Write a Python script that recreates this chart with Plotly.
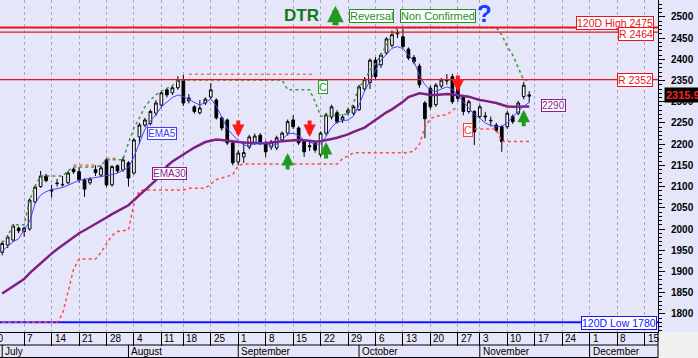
import plotly.graph_objects as go
import pandas as pd

# ---------------- calendar (trading days) ----------------
holidays = ["2014-08-15", "2014-10-31"]
calendar = [d.strftime("%Y-%m-%d") for d in pd.bdate_range("2014-06-30", "2014-12-19")
            if d.strftime("%Y-%m-%d") not in holidays]
pos = {d: i for i, d in enumerate(calendar)}
dates = [d for d in calendar if "2014-07-01" <= d <= "2014-11-14"]

# ---------------- data ----------------
opens = [1945,1962,1974,2002,1994,2000,2064,2100,2125,2092,
         2107,2104,2109,2141,2135,2116,2109,2140,2127,2163,
         2104,2149,2139,2156,2132,2217,2245,2249,2273,2292,
         2328,2321,2333,2351,2302,2288,2274,2297,2311,2304,
         2262,2257,2203,2158,2170,2193,2203,2221,2203,2193,
         2191,2210,2226,2257,2238,2206,2194,2203,2175,2226,
         2264,2274,2257,2274,2273,2281,2330,2345,2398,2387,
         2415,2433,2460,2453,2424,2404,2384,2297,2332,2293,
         2337,2349,2359,2335,2312,2277,2277,2265,2264,2255,
         2245,2241,2241,2265,2273,2312,2313]
closes = [1966,1981,2007,1996,2002,2068,2099,2125,2114,2090,
          2108,2105,2132,2135,2116,2094,2118,2133,2144,2104,
          2147,2137,2163,2120,2210,2245,2257,2277,2297,2321,
          2316,2333,2351,2297,2309,2277,2285,2306,2328,2262,
          2238,2203,2156,2179,2180,2217,2219,2203,2182,2205,
          2215,2226,2253,2241,2203,2182,2196,2186,2226,2269,
          2288,2252,2264,2280,2288,2335,2352,2398,2359,2410,
          2448,2458,2463,2430,2403,2394,2340,2260,2288,2339,
          2351,2351,2300,2308,2277,2300,2229,2288,2266,2256,
          2233,2206,2273,2253,2297,2339,2315.99]
highs = [1972,1986,2012,2006,2006,2072,2104,2137,2130,2104,
         2118,2125,2137,2145,2146,2120,2122,2150,2150,2167,
         2150,2152,2170,2160,2214,2250,2262,2282,2304,2325,
         2332,2338,2360,2363,2318,2292,2304,2310,2344,2308,
         2265,2260,2208,2186,2207,2222,2225,2226,2208,2210,
         2220,2230,2258,2268,2242,2210,2206,2207,2230,2274,
         2293,2280,2270,2286,2292,2340,2358,2402,2405,2415,
         2452,2468,2470,2475,2428,2410,2390,2302,2338,2344,
         2356,2365,2366,2340,2316,2305,2280,2293,2276,2265,
         2250,2245,2278,2270,2302,2347,2325]
lows = [1938,1955,1970,1990,1982,1996,2060,2097,2110,2074,
        2100,2100,2105,2130,2109,2076,2104,2125,2122,2099,
        2100,2132,2135,2100,2128,2200,2240,2244,2266,2286,
        2310,2316,2328,2290,2296,2272,2270,2292,2306,2258,
        2232,2198,2150,2150,2156,2188,2198,2198,2170,2186,
        2186,2205,2220,2236,2198,2170,2184,2180,2170,2220,
        2258,2248,2250,2268,2268,2278,2325,2330,2352,2380,
        2410,2428,2450,2425,2398,2388,2333,2214,2282,2288,
        2332,2340,2295,2300,2268,2272,2198,2260,2254,2242,
        2228,2182,2236,2248,2268,2306,2298]
ema5 = [1948,1960,1970,1977,1996,2018,2060,2080,2088,2093,
        2095,2098,2103,2110,2115,2117,2119,2121,2123,2125,
        2128,2132,2138,2145,2170,2205,2235,2255,2269,2288,
        2300,2310,2316,2312,2305,2298,2292,2298,2306,2290,
        2262,2237,2222,2208,2198,2196,2202,2204,2202,2196,
        2200,2210,2224,2226,2220,2210,2205,2200,2200,2218,
        2240,2252,2255,2257,2266,2292,2325,2350,2375,2398,
        2412,2426,2430,2425,2410,2396,2362,2340,2328,2324,
        2330,2335,2330,2314,2300,2285,2270,2261,2250,2244,
        2241,2242,2250,2265,2276,2290,2298]
ema30 = [1848,1857,1866,1874,1882,1896,1908,1920,1932,1942,
         1952,1962,1972,1981,1990,1997,2004,2011,2019,2027,
         2035,2042,2049,2056,2068,2080,2091,2103,2115,2131,
         2148,2159,2168,2176,2184,2192,2198,2205,2208,2211,
         2210,2208,2206,2205,2204,2203,2203,2202,2202,2204,
         2205,2207,2208,2209,2210,2209,2207,2206,2207,2209,
         2212,2215,2219,2223,2229,2234,2239,2248,2257,2267,
         2275,2282,2290,2300,2311,2316,2320,2318,2316,2316,
         2317,2318,2317,2315,2313,2312,2308,2304,2302,2300,
         2297,2293,2289,2288,2288,2288,2289]
trail_high = [1967,1984,2010,2010,2010,2068,2101,2125,2125,2125,
              2125,2125,2137,2146,2146,2146,2146,2146,2150,2163,
              2163,2163,2163,2203,2238,2262,2288,2304,2316,2325,
              2332,2338,2351,2351,2351,2351,2351,2351,2351,2351,
              2351,2351,2351,2351,2351,2351,2351,2351,2351,2351,
              2351,2351,2328,2328,2328,2328,2328,2300,2266,2266,
              2268,2268,2270,2271,2297,2335,2349,2375,2390,2410,
              2434,2457,2475,2475,2475,2475,2475,2475,2475,2475,
              2475,2475,2475,2475,2475,2475,2475,2475,2475,2475,
              2475,2458,2430,2410,2380,2351,2351]
trail_low = [1780,1780,1780,1780,1780,1780,1780,1780,1780,1780,
             1780,1800,1855,1905,1929,1929,1929,1929,1945,1965,
             1985,1994,1996,1998,2060,2090,2092,2092,2092,2092,
             2092,2092,2092,2092,2096,2096,2096,2096,2106,2116,
             2120,2124,2128,2150,2153,2153,2153,2153,2153,2153,
             2153,2153,2153,2153,2153,2153,2153,2153,2153,2153,
             2153,2153,2166,2172,2180,2180,2180,2180,2180,2180,
             2180,2180,2180,2180,2180,2184,2200,2240,2260,2266,
             2268,2269,2280,2288,None,None,2236,2236,2236,2236,
             2236,2206,2206,2206,2206,2206,2206]
resist_segments = [("2014-07-18", "2014-07-24", 2151),
                   ("2014-07-28", "2014-07-30", 2167),
                   ("2014-08-19", "2014-09-19", 2365)]
sell_signals = [("2014-09-01", 2217), ("2014-09-18", 2217), ("2014-10-27", 2323)]
buy_signals = [("2014-09-12", 2179), ("2014-09-23", 2205), ("2014-11-13", 2281)]
week_ticks = ["2014-06-30","2014-07-07","2014-07-14","2014-07-21","2014-07-28",
              "2014-08-04","2014-08-11","2014-08-18","2014-08-25","2014-09-01",
              "2014-09-08","2014-09-15","2014-09-22","2014-09-29","2014-10-06",
              "2014-10-13","2014-10-20","2014-10-27","2014-11-03","2014-11-10",
              "2014-11-17","2014-11-24","2014-12-01","2014-12-08","2014-12-15"]
months = [("2014-07-01", "July"), ("2014-08-01", "August"), ("2014-09-01", "September"),
          ("2014-10-01", "October"), ("2014-11-03", "November"), ("2014-12-01", "December")]
levels = [(2475, "120D High 2475", "#e8141b"), (2464, "R 2464", "#e8141b"),
          (2352, "R 2352", "#e8141b"), (1780, "120D Low 1780", "#1414ff")]
last_price = 2315.99
ema30_last = 2290

x = [pos[d] for d in dates]
FONT = "Liberation Sans, Arial, sans-serif"
BG = "#E6E6FA"
XR = [0.6, 120.46]

fig = go.Figure()
fig.add_trace(go.Scatter(x=x, y=trail_low, mode="lines", connectgaps=False,
                         line=dict(color="#ff4a4a", width=1.5, dash="dot"), hoverinfo="skip"))
fig.add_trace(go.Scatter(x=x, y=trail_high, mode="lines",
                         line=dict(color="#3f9a3f", width=1.5, dash="dot"), hoverinfo="skip"))
for d0, d1, lv in resist_segments:
    fig.add_trace(go.Scatter(x=[pos[d0], pos[d1]], y=[lv, lv], mode="lines",
                             line=dict(color="#ff6a6a", width=1.5, dash="dot"), hoverinfo="skip"))
fig.add_trace(go.Scatter(x=x, y=ema30, mode="lines", line=dict(color="#7f1f82", width=2.5)))
fig.add_trace(go.Scatter(x=x, y=ema5, mode="lines", line=dict(color="#4646ff", width=1)))
fig.add_trace(go.Candlestick(
    x=x, open=opens, high=highs, low=lows, close=closes,
    increasing=dict(line=dict(color="black", width=1), fillcolor="white"),
    decreasing=dict(line=dict(color="black", width=1), fillcolor="black"),
    whiskerwidth=0))

shapes = []
for lv, txt, col in levels:
    shapes.append(dict(type="line", xref="paper", x0=0, x1=1, yref="y", y0=lv, y1=lv,
                       line=dict(color=col, width=2 if lv in (2475, 1780) else 1.3),
                       layer="between" if lv == 1780 else "above"))
# date table lines
H = 332.0
def py(pix):
    return (H - pix) / H
shapes.append(dict(type="line", xref="paper", x0=0, x1=1, yref="paper", y0=py(345), y1=py(345),
                   line=dict(color="black", width=1)))
shapes.append(dict(type="line", xref="paper", x0=0, x1=1, yref="paper", y0=py(357.5), y1=py(357.5),
                   line=dict(color="black", width=1)))
shapes.append(dict(type="line", xref="paper", x0=1, x1=1, yref="paper", y0=0, y1=py(358),
                   line=dict(color="black", width=1)))
shapes.append(dict(type="rect", xref="paper", x0=1.0015, x1=1.07, yref="paper", y0=-0.0005, y1=py(360),
                   fillcolor="#f0f0f0", line=dict(width=0)))
for d, name in months:
    shapes.append(dict(type="line", xref="x", x0=pos[d], x1=pos[d], yref="paper",
                       y0=py(345), y1=py(358), line=dict(color="black", width=1)))

ann = []
for d in week_ticks:
    p = pos[d]
    if p >= XR[0]:
        ann.append(dict(x=p, xref="x", y=py(338.8), yref="paper", text=str(int(d[8:])),
                        showarrow=False, xanchor="left", yanchor="middle", xshift=1,
                        font=dict(family=FONT, size=10, color="black")))
    else:  # tick left of the visible range: its label is cut by the left edge
        ann.append(dict(x=0, xref="paper", y=py(338.8), yref="paper", text=str(int(d[8:])),
                        showarrow=False, xanchor="right", yanchor="middle", xshift=6,
                        font=dict(family=FONT, size=10, color="black")))
for d, name in months:
    ann.append(dict(x=pos[d], xref="x", y=py(351.8), yref="paper", text=name,
                    showarrow=False, xanchor="left", yanchor="middle", xshift=1,
                    font=dict(family=FONT, size=10, color="black")))
shift = {2475: 4.5, 2464: -1.5, 2352: -0.5, 1780: -0.5}
xr = {2475: 0.994, 2464: 0.994, 2352: 0.9925, 1780: 0.998}
for lv, txt, col in levels:
    ann.append(dict(x=xr[lv], xref="paper", y=lv, yref="y", yshift=shift[lv], text=txt,
                    showarrow=False, xanchor="right", yanchor="middle",
                    bgcolor="white", bordercolor=col, borderwidth=1, borderpad=0,
                    font=dict(family=FONT, size=10.5, color=col)))
def box(xv, yv, txt, col, size=10):
    return dict(x=xv, xref="x", y=yv, yref="y", text=txt, showarrow=False,
                xanchor="center", yanchor="middle", bgcolor="white", bordercolor=col,
                borderwidth=1, borderpad=0, font=dict(family=FONT, size=size, color=col))
def arrow(xv, yv, dy, col, width, size):
    return dict(x=xv, xref="x", y=yv, yref="y", text="", showarrow=True, ax=0, ay=dy,
                arrowcolor=col, arrowwidth=width, arrowhead=2, arrowsize=size,
                font=dict(size=1), borderpad=0, standoff=0, startstandoff=0)
ann.append(box(30.1, 2224, "EMA5", "#3c3cff"))
ann.append(box(31.4, 2130, "EMA30", "#8a1d8d"))
ann.append(box(59.5, 2335, "C", "#2f9a2f", 11))
ann.append(box(85.8, 2233, "C", "#ff4040", 11))
ann.append(box(101.5, ema30_last, str(ema30_last), "#8a1d8d"))
ann.append(box(68.3, 2503, "Reversal", "#1f8f1f", 11))
ann.append(box(80.3, 2503, "Non Confirmed", "#1f8f1f", 11))
ann.append(dict(x=55.5, xref="x", y=2503, yref="y", text="<b>DTR</b>", showarrow=False,
                font=dict(family=FONT, size=17, color="#127a12")))
ann.append(dict(x=88.8, xref="x", y=2507, yref="y", text="<b>?</b>", showarrow=False,
                font=dict(family=FONT, size=24, color="#1a3cff")))
ann.append(arrow(61.7, 2526, 20, "#1f9a1f", 6, 0.55))
for d, v in sell_signals:
    ann.append(arrow(pos[d], v, -17, "#ff1a1a", 4, 0.62))
for d, v in buy_signals:
    ann.append(arrow(pos[d], v, 17, "#1f9a1f", 4, 0.62))
ann.append(dict(x=664 / 658, xref="paper", y=last_price, yref="y", text="<b>%.2f</b>" % last_price,
                showarrow=False, xanchor="left", yanchor="middle", bgcolor="black", borderpad=1,
                font=dict(family=FONT, size=11, color="#ff2020")))

fig.update_layout(
    width=698, height=358, margin=dict(l=0, r=40, t=0, b=26),
    paper_bgcolor=BG, plot_bgcolor=BG, showlegend=False,
    shapes=shapes, annotations=ann,
    xaxis=dict(range=XR, tickmode="array", tickvals=[pos[d] for d in week_ticks],
               showticklabels=False, ticks="outside", ticklen=13, tickcolor="black", tickwidth=1,
               showgrid=True, gridcolor="#a8a8b8", griddash="dot", gridwidth=1,
               showline=True, linecolor="black", zeroline=False, rangeslider=dict(visible=False)),
    yaxis=dict(side="right", range=[1757.2, 2539.8], tickmode="array",
               tickvals=list(range(1800, 2501, 50)), ticks="outside", ticklen=6,
               tickcolor="black", showline=True, linecolor="black", showgrid=False,
               zeroline=False, ticklabelstandoff=4,
               tickfont=dict(family=FONT, size=10, color="black", weight="bold"),
               minor=dict(tickmode="linear", tick0=1760, dtick=10, ticks="outside",
                          ticklen=3, tickcolor="black", showgrid=False)),
)
fig.write_html("out.html", config={"displayModeBar": False},
               post_script="document.body.style.margin='0';document.body.style.padding='0';"
                           "document.body.style.overflow='hidden';")
